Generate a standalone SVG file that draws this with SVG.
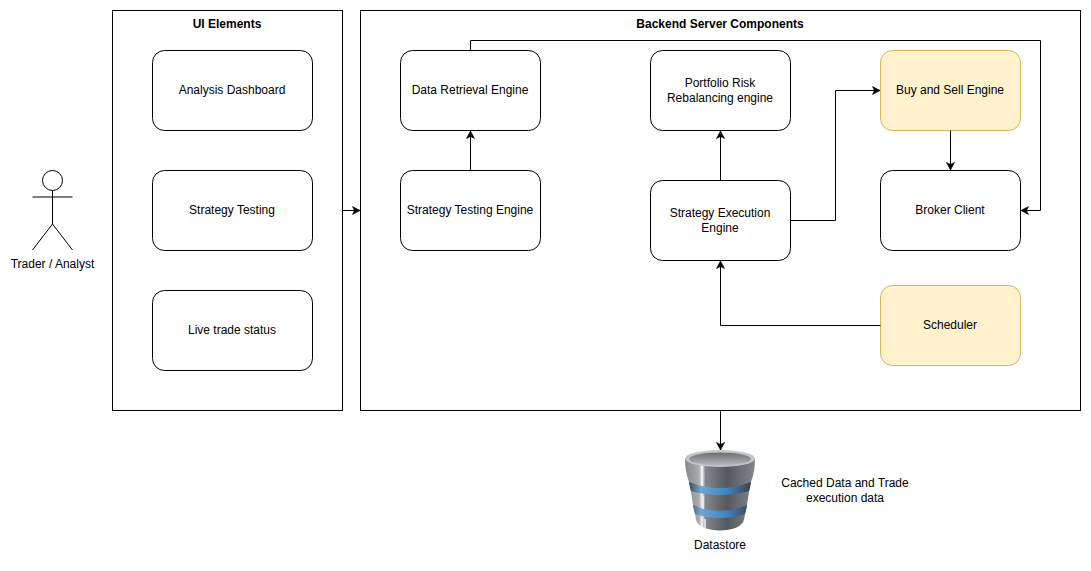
<svg xmlns="http://www.w3.org/2000/svg" width="1091" height="571" viewBox="0 0 1091 571">
<style>
text{font-family:"Liberation Sans",Arial,sans-serif;font-size:12px;fill:#000;text-anchor:middle}
.b{font-weight:bold}
.n{fill:#fff;stroke:#000;stroke-width:1}
.y{fill:#fff2cc;stroke:#d6b656;stroke-width:1}
.c{fill:none;stroke:#000;stroke-width:1;marker-end:url(#a)}
.s{fill:none;stroke:#000;stroke-width:1}
</style>
<defs>
<marker id="a" markerUnits="userSpaceOnUse" markerWidth="10" markerHeight="10" refX="8" refY="4.5" orient="auto" overflow="visible"><path d="M0.5 0.5L8 4.5L0.5 8.5L2.5 4.5Z" fill="#000" stroke="#000" stroke-width="0.6"/></marker>
<linearGradient id="g" gradientUnits="userSpaceOnUse" x1="685" x2="755" y1="0" y2="0"><stop offset="0" stop-color="#85878b"/><stop offset=".2" stop-color="#a9abad"/><stop offset=".245" stop-color="#f4f4f4"/><stop offset=".29" stop-color="#83868a"/><stop offset=".6" stop-color="#55585d"/><stop offset="1" stop-color="#84878b"/></linearGradient>
<linearGradient id="t" x1="0" x2="0" y1="0" y2="1"><stop offset="0" stop-color="#6a6d71"/><stop offset="1" stop-color="#b8babc"/></linearGradient>
<linearGradient id="bl" gradientUnits="userSpaceOnUse" x1="688" x2="752" y1="0" y2="0"><stop offset="0" stop-color="#3e4349"/><stop offset=".2" stop-color="#6fa6d2"/><stop offset=".6" stop-color="#3f86c4"/><stop offset="1" stop-color="#3a3f45"/></linearGradient>
</defs>
<g id="actor">
<circle class="s" cx="52.500" cy="180.500" r="10"/>
<path class="s" d="M52.500 190.500V224M32.500 197H72.500M52.500 224L32.500 250M52.500 224L72.500 250"/>
<text x="52.500" y="268">Trader / Analyst</text>
</g>
<g id="ui-elements">
<rect class="n" x="112.500" y="10.500" width="230" height="400"/>
<text class="b" x="227" y="28">UI Elements</text>
</g>
<g id="analysis-dashboard"><rect class="n" x="152.500" y="50.500" width="160" height="80" rx="12"/><text x="232" y="94">Analysis Dashboard</text></g>
<g id="strategy-testing"><rect class="n" x="152.500" y="170.500" width="160" height="80" rx="12"/><text x="232" y="214">Strategy Testing</text></g>
<g id="live-trade-status"><rect class="n" x="152.500" y="290.500" width="160" height="80" rx="12"/><text x="232" y="334">Live trade status</text></g>
<g id="backend">
<rect class="n" x="360.500" y="10.500" width="720" height="400"/>
<text class="b" x="720" y="28">Backend Server Components</text>
</g>
<g id="data-retrieval"><rect class="n" x="400.500" y="50.500" width="140" height="80" rx="12"/><text x="470" y="94">Data Retrieval Engine</text></g>
<g id="strategy-testing-engine"><rect class="n" x="400.500" y="170.500" width="140" height="80" rx="12"/><text x="470" y="214">Strategy Testing Engine</text></g>
<g id="portfolio-risk"><rect class="n" x="650.500" y="50.500" width="140" height="80" rx="12"/><text x="720" y="87">Portfolio Risk</text><text x="720" y="102">Rebalancing engine</text></g>
<g id="strategy-execution"><rect class="n" x="650.500" y="180.500" width="140" height="80" rx="12"/><text x="720" y="217">Strategy Execution</text><text x="720" y="232">Engine</text></g>
<g id="buy-sell"><rect class="y" x="880.500" y="50.500" width="140" height="80" rx="12"/><text x="950" y="94">Buy and Sell Engine</text></g>
<g id="broker-client"><rect class="n" x="880.500" y="170.500" width="140" height="80" rx="12"/><text x="950" y="214">Broker Client</text></g>
<g id="scheduler"><rect class="y" x="880.500" y="285.500" width="140" height="80" rx="12"/><text x="950" y="329">Scheduler</text></g>
<g id="connectors">
<path class="c" d="M342.500 210.500H360"/>
<path class="c" d="M470.500 170.500V131"/>
<path class="c" d="M470.500 50.500V40.500H1040.500V210.500H1021"/>
<path class="c" d="M720.500 180.500V131"/>
<path class="c" d="M790.500 220.500H835.500V90.500H880"/>
<path class="c" d="M950.500 130.500V170"/>
<path class="c" d="M880.500 325.500H720.500V261"/>
<path class="c" d="M720.500 410.500V450"/>
</g>
<g id="datastore">
<path fill="url(#g)" d="M685 459C685 466 686 474 689 482L691 492L693 505L695 514L696 520C700 534 740 534 744 520L745 514L747 505L749 492L751 482C754 474 755 466 755 459Z"/>
<ellipse cx="720" cy="458.500" rx="35" ry="8.500" fill="#c3c5c7"/>
<ellipse cx="720" cy="459" rx="31" ry="6.500" fill="url(#t)"/>
<path fill="url(#bl)" d="M689 482Q720 494 751 482Q750 488 749 491Q720 499 691 491Q690 488 689 482Z"/>
<path fill="url(#bl)" d="M693 505Q720 517 747 505Q746 511 745 514Q720 522 695 514Q694 511 693 505Z"/>
<path fill="none" stroke="#f0f0f0" stroke-width="1.500" d="M702 466V486M703 496V509M705 519V528"/>
<text x="720" y="549">Datastore</text>
</g>
<g id="datastore-note">
<text x="845" y="487">Cached Data and Trade</text>
<text x="845" y="502">execution data</text>
</g>
</svg>
